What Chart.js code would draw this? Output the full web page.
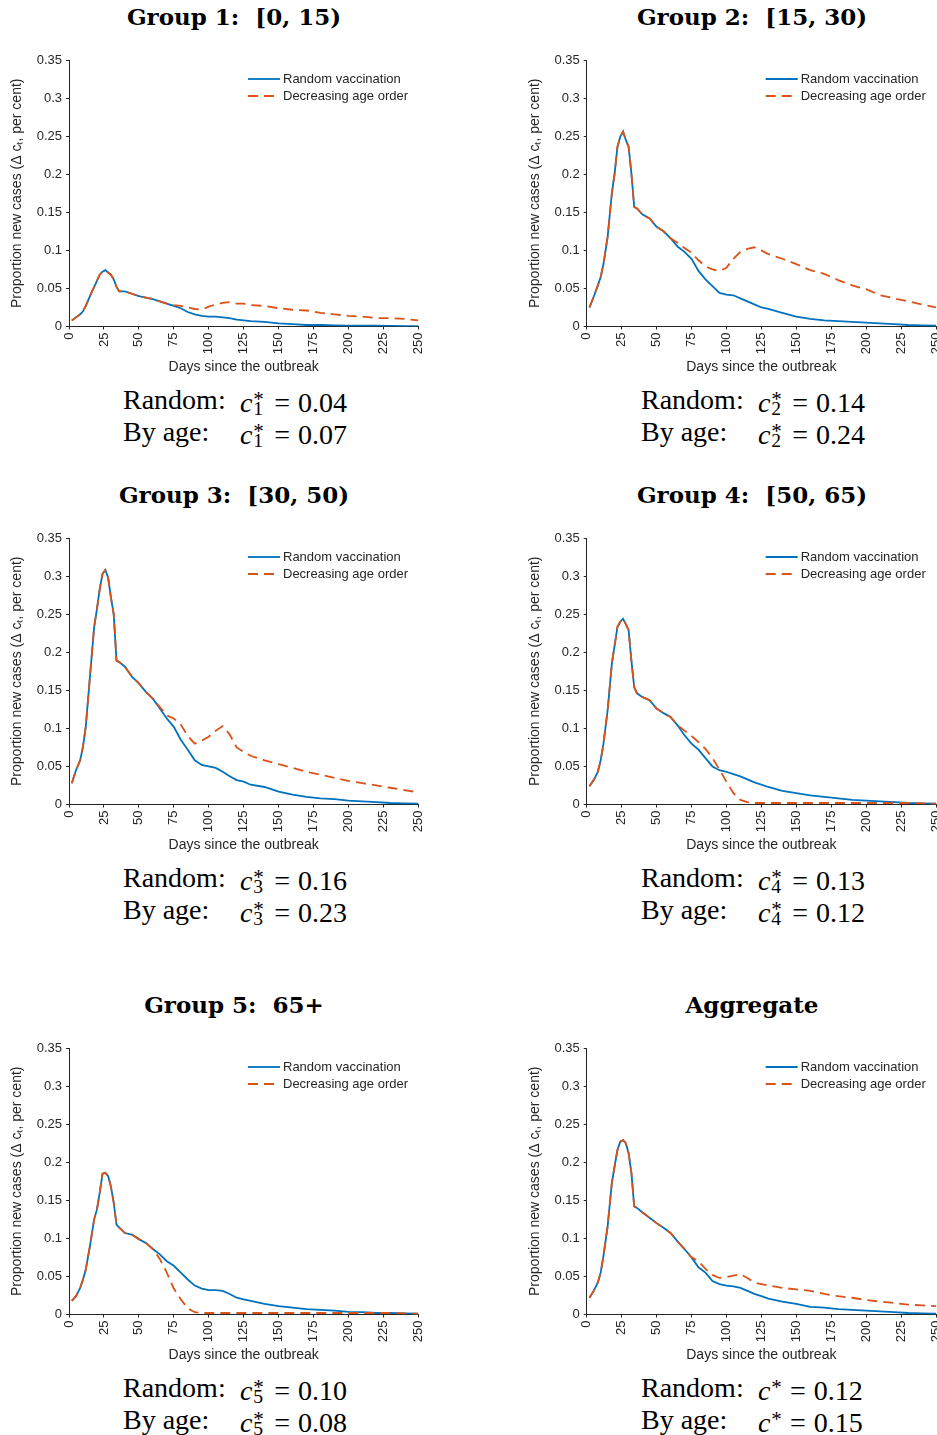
<!DOCTYPE html>
<html>
<head>
<meta charset="utf-8">
<script src="https://cdn.jsdelivr.net/npm/chart.js@4.4.1/dist/chart.umd.min.js"></script>
<style>
  html, body { margin: 0; padding: 0; background: #fff; }
  #page { position: relative; width: 937px; height: 1435px; overflow: hidden; }
  .panel { position: absolute; }
  .panel canvas { display: block; }
  .title { position: absolute; width: 400px; text-align: center; font: bold 23px "DejaVu Serif", serif;
           line-height: 30px; color: #000; white-space: pre; }
  .note { position: absolute; width: 320px; font: 28px "Liberation Serif", serif; line-height: 32px; color: #000; white-space: nowrap; }
  .note .line { position: relative; height: 32px; }
  .note .lab { position: absolute; left: 0; }
  .note .math { position: absolute; left: 117px; }
  .ss { display: inline-block; position: relative; width: 0.5em; height: 1em; }
  .ss.nosub { width: 0.42em; }
  .ss .sup { position: absolute; left: 0.04em; bottom: 0.1em; font-size: 0.75em; line-height: 1; }
  .ss .sub { position: absolute; left: 0.04em; bottom: -0.36em; font-size: 0.7em; line-height: 1; }
  .eq { margin: 0 0.28em; }
</style>
</head>
<body>
<div id="page"></div>
<script>
const days = [2, 5, 8, 10, 12, 15, 18, 20, 22, 24, 26, 28, 30, 32, 34, 36, 40, 45, 50, 55, 60, 65, 70, 75, 80,
  85, 90, 95, 100, 105, 110, 115, 120, 125, 130, 140, 150, 160, 170, 180, 190, 200, 210, 220, 230, 240, 250];

// Group 1: [0, 15)
const g1Random = [0.008, 0.012, 0.016, 0.020, 0.027, 0.040, 0.052, 0.060, 0.068, 0.072, 0.074, 0.071, 0.068, 0.062,
  0.052, 0.046, 0.046, 0.043, 0.040, 0.038, 0.036, 0.033, 0.030, 0.027, 0.024, 0.019, 0.016, 0.014, 0.013, 0.013,
  0.012, 0.011, 0.009, 0.008, 0.007, 0.006, 0.004, 0.003, 0.002, 0.002, 0.0015, 0.001, 0.001, 0.001, 0.0008, 0.0005, 0.0005];
const g1Age = [0.008, 0.012, 0.016, 0.020, 0.027, 0.040, 0.052, 0.060, 0.068, 0.072, 0.074, 0.071, 0.068, 0.062,
  0.052, 0.046, 0.046, 0.043, 0.040, 0.038, 0.036, 0.033, 0.030, 0.028, 0.027, 0.025, 0.023, 0.022, 0.026, 0.029,
  0.031, 0.032, 0.030, 0.030, 0.028, 0.027, 0.024, 0.022, 0.021, 0.018, 0.016, 0.014, 0.013, 0.011, 0.011, 0.010, 0.008];

// Group 2: [15, 30)
const g2Random = [0.025, 0.039, 0.054, 0.065, 0.082, 0.118, 0.175, 0.201, 0.236, 0.249, 0.256, 0.245, 0.236, 0.201,
  0.157, 0.155, 0.147, 0.142, 0.131, 0.125, 0.116, 0.105, 0.098, 0.089, 0.073, 0.062, 0.053, 0.044, 0.042, 0.041,
  0.037, 0.033, 0.029, 0.025, 0.023, 0.018, 0.013, 0.010, 0.008, 0.007, 0.006, 0.005, 0.004, 0.003, 0.002, 0.0015, 0.001];
const g2Age = [0.025, 0.039, 0.054, 0.065, 0.082, 0.118, 0.175, 0.201, 0.236, 0.249, 0.256, 0.245, 0.236, 0.201,
  0.157, 0.155, 0.147, 0.142, 0.131, 0.125, 0.116, 0.110, 0.103, 0.097, 0.087, 0.079, 0.075, 0.073, 0.077, 0.089,
  0.098, 0.102, 0.104, 0.100, 0.095, 0.089, 0.082, 0.074, 0.069, 0.061, 0.054, 0.049, 0.041, 0.037, 0.033, 0.029, 0.025];

// Group 3: [30, 50)
const g3Random = [0.028, 0.045, 0.058, 0.076, 0.102, 0.168, 0.233, 0.257, 0.283, 0.303, 0.308, 0.298, 0.272, 0.250,
  0.189, 0.187, 0.181, 0.168, 0.159, 0.148, 0.139, 0.126, 0.113, 0.102, 0.085, 0.072, 0.058, 0.052, 0.050, 0.048,
  0.043, 0.037, 0.032, 0.030, 0.026, 0.023, 0.017, 0.013, 0.010, 0.008, 0.007, 0.005, 0.004, 0.003, 0.002, 0.0015, 0.001];
const g3Age = [0.028, 0.045, 0.058, 0.076, 0.102, 0.168, 0.233, 0.257, 0.283, 0.303, 0.308, 0.298, 0.272, 0.250,
  0.189, 0.187, 0.181, 0.168, 0.159, 0.148, 0.139, 0.128, 0.117, 0.113, 0.105, 0.090, 0.080, 0.084, 0.089, 0.097,
  0.103, 0.092, 0.075, 0.069, 0.064, 0.058, 0.053, 0.048, 0.043, 0.039, 0.035, 0.031, 0.028, 0.025, 0.022, 0.019, 0.016];

// Group 4: [50, 65)
const g4Random = [0.024, 0.032, 0.043, 0.058, 0.080, 0.124, 0.185, 0.209, 0.233, 0.240, 0.244, 0.237, 0.229, 0.189,
  0.154, 0.146, 0.141, 0.137, 0.126, 0.120, 0.115, 0.104, 0.091, 0.080, 0.072, 0.061, 0.050, 0.045, 0.043, 0.040,
  0.037, 0.033, 0.029, 0.026, 0.023, 0.018, 0.015, 0.012, 0.010, 0.008, 0.006, 0.005, 0.004, 0.003, 0.002, 0.0015, 0.001];
const g4Age = [0.024, 0.032, 0.043, 0.058, 0.080, 0.124, 0.185, 0.209, 0.233, 0.240, 0.244, 0.237, 0.229, 0.189,
  0.154, 0.146, 0.141, 0.137, 0.126, 0.120, 0.115, 0.104, 0.097, 0.090, 0.082, 0.073, 0.061, 0.046, 0.030, 0.015,
  0.006, 0.003, 0.002, 0.002, 0.002, 0.002, 0.002, 0.002, 0.002, 0.002, 0.002, 0.002, 0.002, 0.002, 0.002, 0.0015, 0.001];

// Group 5: 65+
const g5Random = [0.018, 0.024, 0.035, 0.046, 0.059, 0.090, 0.125, 0.138, 0.160, 0.185, 0.186, 0.182, 0.168, 0.147,
  0.118, 0.114, 0.107, 0.105, 0.099, 0.094, 0.086, 0.079, 0.070, 0.064, 0.055, 0.046, 0.038, 0.034, 0.032, 0.032,
  0.031, 0.027, 0.022, 0.020, 0.018, 0.014, 0.011, 0.009, 0.007, 0.006, 0.005, 0.0035, 0.003, 0.002, 0.002, 0.0015, 0.001];
const g5Age = [0.018, 0.024, 0.035, 0.046, 0.059, 0.090, 0.125, 0.138, 0.160, 0.185, 0.186, 0.182, 0.168, 0.147,
  0.118, 0.114, 0.107, 0.105, 0.099, 0.094, 0.086, 0.073, 0.055, 0.034, 0.020, 0.008, 0.003, 0.002, 0.002, 0.002,
  0.002, 0.002, 0.002, 0.002, 0.002, 0.002, 0.002, 0.002, 0.002, 0.002, 0.002, 0.002, 0.002, 0.002, 0.002, 0.0015, 0.001];

// Aggregate
const aggRandom = [0.022, 0.031, 0.042, 0.055, 0.077, 0.116, 0.173, 0.195, 0.216, 0.227, 0.229, 0.225, 0.212, 0.186,
  0.142, 0.140, 0.134, 0.127, 0.120, 0.114, 0.107, 0.096, 0.086, 0.075, 0.062, 0.055, 0.044, 0.040, 0.038, 0.037,
  0.035, 0.031, 0.027, 0.024, 0.021, 0.017, 0.014, 0.010, 0.009, 0.007, 0.006, 0.005, 0.004, 0.003, 0.002, 0.0015, 0.001];
const aggAge = [0.022, 0.031, 0.042, 0.055, 0.077, 0.116, 0.173, 0.195, 0.216, 0.227, 0.229, 0.225, 0.212, 0.186,
  0.142, 0.140, 0.134, 0.127, 0.120, 0.114, 0.107, 0.096, 0.086, 0.075, 0.070, 0.060, 0.052, 0.048, 0.049, 0.051,
  0.053, 0.048, 0.042, 0.040, 0.038, 0.035, 0.033, 0.031, 0.027, 0.024, 0.022, 0.019, 0.017, 0.015, 0.013, 0.012, 0.011];

const panelTitles = ['Group 1:  [0, 15)', 'Group 2:  [15, 30)', 'Group 3:  [30, 50)',
  'Group 4:  [50, 65)', 'Group 5:  65+', 'Aggregate'];
const subscripts = ['1', '2', '3', '4', '5', ''];
const cRandom = ['0.04', '0.14', '0.16', '0.13', '0.10', '0.12'];
const cByAge = ['0.07', '0.24', '0.23', '0.12', '0.08', '0.15'];
const seriesLabels = ['Random vaccination', 'Decreasing age order'];
const randomSeries = [g1Random, g2Random, g3Random, g4Random, g5Random, aggRandom];
const ageSeries = [g1Age, g2Age, g3Age, g4Age, g5Age, aggAge];

const BLUE = '#0072BD';
const RED = '#D95319';
const INK = '#262626';
const AXIS_FONT = '"Liberation Sans", Arial, sans-serif';

const rowOffset = [0, 478, 988];

// legend drawn inside the plot box, top right, like the original
const insideLegend = {
  id: 'insideLegend',
  afterDraw(chart) {
    const { ctx, chartArea } = chart;
    const items = [...chart.data.datasets].sort((a, b) => a.legendIndex - b.legendIndex);
    ctx.save();
    items.forEach((ds, i) => {
      const y = chartArea.top + 19 + i * 17;
      const x0 = chartArea.left + 179;
      ctx.strokeStyle = ds.borderColor;
      ctx.lineWidth = ds.borderWidth;
      ctx.setLineDash(ds.borderDash || []);
      ctx.beginPath();
      ctx.moveTo(x0, y);
      ctx.lineTo(x0 + 32, y);
      ctx.stroke();
      ctx.setLineDash([]);
      ctx.fillStyle = INK;
      ctx.font = '13px ' + AXIS_FONT;
      ctx.textBaseline = 'middle';
      ctx.fillText(ds.label, x0 + 35, y + 0.5);
    });
    ctx.restore();
  }
};

const page = document.getElementById('page');

function toPoints(vals) {
  return days.map((d, i) => ({ x: d, y: vals[i] }));
}

function makePanel(i) {
  const col = i % 2;
  const row = Math.floor(i / 2);
  const off = rowOffset[row];
  const colShift = col * 518;

  // title
  const t = document.createElement('div');
  t.className = 'title';
  t.textContent = panelTitles[i];
  t.style.left = (col ? 752 : 234) - 200 + 'px';
  t.style.top = 2 + off + 'px';
  page.appendChild(t);

  // chart
  const wrap = document.createElement('div');
  wrap.className = 'panel';
  const cw = col ? 419 : 430;
  const ch = 330;
  wrap.style.left = colShift + 'px';
  wrap.style.top = 50 + off + 'px';
  const canvas = document.createElement('canvas');
  canvas.width = cw;
  canvas.height = ch;
  canvas.style.width = cw + 'px';
  canvas.style.height = ch + 'px';
  wrap.appendChild(canvas);
  page.appendChild(wrap);

  const yAxisWidth = col ? 68.7 : 69;
  new Chart(canvas.getContext('2d'), {
    type: 'line',
    data: {
      datasets: [
        {
          label: seriesLabels[0], legendIndex: 0, order: 1,
          data: toPoints(randomSeries[i]),
          borderColor: BLUE, borderWidth: 1.8, pointRadius: 0, tension: 0,
        },
        {
          label: seriesLabels[1], legendIndex: 1, order: 0,
          data: toPoints(ageSeries[i]),
          borderColor: RED, borderWidth: 1.8, borderDash: [10, 6], pointRadius: 0, tension: 0,
        },
      ],
    },
    options: {
      responsive: false,
      animation: false,
      devicePixelRatio: 1,
      layout: { padding: { top: 10, right: col ? 1 : 11.7, bottom: 1.5, left: 0 } },
      plugins: { legend: { display: false }, tooltip: { enabled: false } },
      scales: {
        x: {
          type: 'linear', min: 0, max: 250,
          afterFit(scale) {
            scale.height = 52;
            scale.paddingLeft = 0;
            scale.paddingRight = 0;
          },
          ticks: {
            stepSize: 25, autoSkip: false, maxRotation: 90, minRotation: 90,
            color: INK, font: { family: AXIS_FONT, size: 13 }, padding: 3,
          },
          grid: { drawOnChartArea: false, drawTicks: true, tickLength: 3, color: INK },
          border: { display: true, color: INK, width: 1 },
          title: {
            display: true, text: 'Days since the outbreak', color: INK,
            font: { family: AXIS_FONT, size: 14 }, padding: { top: 2, bottom: 3 },
          },
        },
        y: {
          min: 0, max: 0.35,
          afterFit(scale) {
            scale.width = yAxisWidth;
            scale.paddingTop = 0;
            scale.paddingBottom = 0;
          },
          ticks: {
            stepSize: 0.05, color: INK, font: { family: AXIS_FONT, size: 13 }, padding: 4,
            callback: v => String(Math.round(v * 100) / 100),
          },
          grid: { drawOnChartArea: false, drawTicks: true, tickLength: 3, color: INK },
          border: { display: true, color: INK, width: 1 },
          title: {
            display: true, text: 'Proportion new cases (\u0394 c\u209C, per cent)', color: INK,
            font: { family: AXIS_FONT, size: 14 }, padding: { top: 9, bottom: 2 },
          },
        },
      },
    },
    plugins: [insideLegend],
  });

  // c* annotations below the chart
  const note = document.createElement('div');
  note.className = 'note';
  note.style.left = 123 + colShift + 'px';
  note.style.top = 384 + off + 'px';
  const sub = subscripts[i];
  const cHtml = '<i>c</i><span class="ss' + (sub ? '' : ' nosub') + '"><span class="sup">*</span>' +
    (sub ? '<span class="sub">' + sub + '</span>' : '') + '</span>';
  note.innerHTML =
    '<div class="line"><span class="lab">Random:</span><span class="math">' + cHtml +
      '<span class="eq">=</span>' + cRandom[i] + '</span></div>' +
    '<div class="line"><span class="lab">By age:</span><span class="math">' + cHtml +
      '<span class="eq">=</span>' + cByAge[i] + '</span></div>';
  page.appendChild(note);
}

for (let i = 0; i < 6; i++) makePanel(i);
</script>
</body>
</html>
